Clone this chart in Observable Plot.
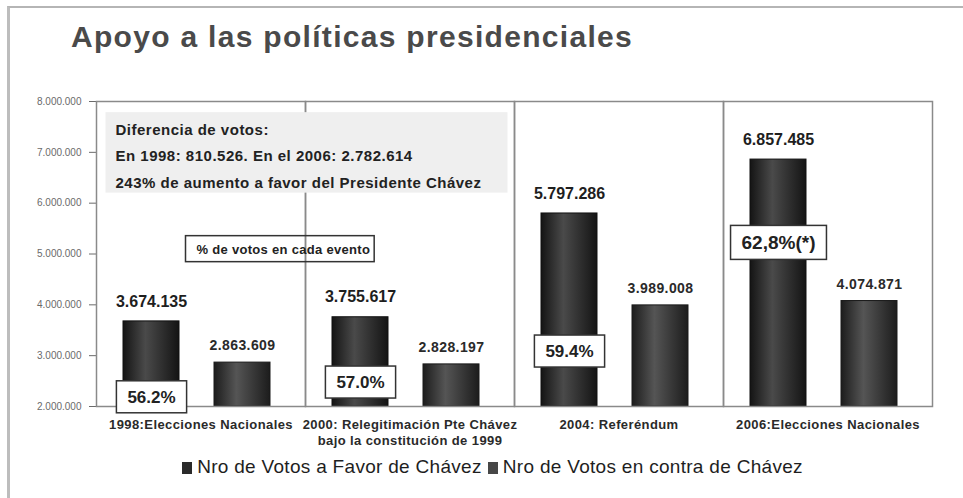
<!DOCTYPE html>
<html>
<head>
<meta charset="utf-8">
<script src="https://cdn.jsdelivr.net/npm/d3@7"></script>
<script src="https://cdn.jsdelivr.net/npm/@observablehq/plot@0.6"></script>
<style>
  html, body { margin: 0; padding: 0; background: #fff; }
  #wrap { position: relative; width: 963px; height: 498px; overflow: hidden; font-family: "Liberation Sans", Arial, sans-serif; }
  #border { position: absolute; left: 7px; top: 6px; right: -10px; bottom: -10px; border-left: 3px solid #bdbdbd; border-top: 2px solid #b5b5b5; }
  #title { position: absolute; left: 71px; top: 22px; font-size: 30px; letter-spacing: 1.3px; line-height: 1; font-weight: bold; color: #4a4a4a; white-space: nowrap; }
  #chart { position: absolute; left: 0; top: 70px; }
  #legend { position: absolute; left: 0; width: 985px; top: 456px; text-align: center; font-size: 19px; letter-spacing: 0.3px; color: #1e1e1e; white-space: nowrap; }
  #legend .sw { display: inline-block; width: 10px; height: 12px; margin-right: 5px; vertical-align: -1px; }
  #legend .item { margin: 0 3px; }
</style>
</head>
<body>
<div id="wrap">
  <div id="border"></div>
  <div id="title">Apoyo a las políticas presidenciales</div>
  <div id="chart"></div>
  <div id="legend"></div>
</div>
<script>
// ---------------- data ----------------
const events = [
  "1998:Elecciones Nacionales",
  "2000: Relegitimación Pte Chávez\nbajo la constitución de 1999",
  "2004: Referéndum",
  "2006:Elecciones Nacionales"
];
const seriesKeys = ["favor", "contra"];
const seriesNames = ["Nro de Votos a Favor de Chávez", "Nro de Votos en contra de Chávez"];
const votosFavor = [3674135, 3755617, 5797286, 6857485];
const votosContra = [2863609, 2828197, 3989008, 4074871];
const pctFavor = ["56.2%", "57.0%", "59.4%", "62,8%(*)"];
const yTicks = [2000000, 3000000, 4000000, 5000000, 6000000, 7000000, 8000000];
const noteLines = [
  "Diferencia de votos:",
  "En 1998: 810.526. En el 2006: 2.782.614",
  "243% de aumento a favor del Presidente Chávez"
];
const noteBox = "% de votos en cada evento";

// ---------------- layout helpers (not data) ----------------
const pctAnchorY = [2180000, 2470000, 3080000, 5210000]; // vertical placement of % boxes

const fmt = d3.formatLocale({decimal: ",", thousands: ".", grouping: [3], currency: ["", ""]}).format(",");

const rows = events.flatMap((e, i) => [
  {event: e, series: "favor", value: votosFavor[i]},
  {event: e, series: "contra", value: votosContra[i]}
]);
const favorRows = rows.filter(d => d.series === "favor");
const contraRows = rows.filter(d => d.series === "contra");
const pctRows = events.map((e, i) => ({event: e, series: "favor", label: pctFavor[i], y: pctAnchorY[i]}));
const base = yTicks[0];

const plot = Plot.plot({
  width: 963,
  height: 390,
  marginLeft: 95,
  marginRight: 31,
  marginTop: 31,
  marginBottom: 54,
  style: {fontFamily: "'Liberation Sans', Arial, sans-serif", color: "#6a6a6a", background: "transparent", overflow: "visible"},
  fx: {domain: events, padding: 0, axis: null},
  x: {domain: seriesKeys, paddingInner: 0.385, paddingOuter: 0.335, align: 0.43, axis: null},
  y: {domain: [yTicks[0], yTicks[yTicks.length - 1]], ticks: yTicks, tickFormat: fmt, tickSize: 7, tickPadding: 8, label: null, fontSize: 10},
  marks: [
    Plot.barY(favorRows, {fx: "event", x: "series", y1: () => base, y2: "value", fill: "url(#gFavor)", stroke: "#111", strokeWidth: 1, inset: 0}),
    Plot.barY(contraRows, {fx: "event", x: "series", y1: () => base, y2: "value", fill: "url(#gContra)", stroke: "#1a1a1a", strokeWidth: 1, inset: 0}),
    Plot.frame({stroke: "#8a8a8a", strokeWidth: 1.5}),
    Plot.text(favorRows, {fx: "event", x: "series", y: "value", text: d => fmt(d.value), dy: -20, fontSize: 16, fontWeight: "bold", fill: "#1e1e1e"}),
    Plot.text(contraRows, {fx: "event", x: "series", y: "value", text: d => fmt(d.value), dy: -17, fontSize: 14, fontWeight: "bold", fill: "#2a2a2a", ariaDescription: "contra"}),
    Plot.text(pctRows, {fx: "event", x: "series", y: "y", text: "label", fontSize: d => d.label.length > 6 ? 19 : 17, fontWeight: "bold", fill: "#222", ariaDescription: "pct"}),
    Plot.text([noteLines.join("\n")], {fx: () => events[0], frameAnchor: "top-left", textAnchor: "start", lineAnchor: "top", dx: 19, dy: 15, lineHeight: 1.75, fontSize: 15, fontWeight: "bold", fill: "#222", ariaDescription: "note"}),
    Plot.text([noteBox], {fx: () => events[0], frameAnchor: "top-left", textAnchor: "start", lineAnchor: "middle", dx: 100, dy: 148, fontSize: 13, fontWeight: "bold", fill: "#222", ariaDescription: "notebox"}),
    Plot.text(events, {fx: d => d, text: d => d, frameAnchor: "bottom", lineAnchor: "top", dy: 10, lineHeight: 1.3, fontSize: 13, fontWeight: "bold", fill: "#2a2a2a", ariaDescription: "xlab"})
  ]
});

document.getElementById("chart").appendChild(plot);
const svg = d3.select(plot);

// letter spacing tweaks
svg.selectAll('g[aria-description="note"]').style("letter-spacing", "0.5px");
svg.selectAll('g[aria-description="notebox"]').style("letter-spacing", "0.3px");
svg.selectAll('g[aria-description="xlab"]').style("letter-spacing", "0.4px");
svg.selectAll('g[aria-description="contra"]').style("letter-spacing", "0.4px");

// gradients for cylinder-like bars
const defs = svg.insert("defs", ":first-child");
function grad(id, edge, mid) {
  const g = defs.append("linearGradient").attr("id", id).attr("x1", 0).attr("x2", 1).attr("y1", 0).attr("y2", 0);
  g.append("stop").attr("offset", "0%").attr("stop-color", edge);
  g.append("stop").attr("offset", "40%").attr("stop-color", mid);
  g.append("stop").attr("offset", "100%").attr("stop-color", edge);
}
grad("gFavor", "#141414", "#4a4a4a");
grad("gContra", "#1c1c1c", "#555555");

// boxes behind annotation texts
function boxes(label, padL, padR, padT, padB, fill, stroke, sw) {
  svg.selectAll(`g[aria-description="${label}"] text`).each(function () {
    const b = this.getBBox();
    const r = document.createElementNS("http://www.w3.org/2000/svg", "rect");
    r.setAttribute("x", b.x - padL);
    r.setAttribute("y", b.y - padT);
    r.setAttribute("width", b.width + padL + padR);
    r.setAttribute("height", b.height + padT + padB);
    r.setAttribute("fill", fill);
    r.setAttribute("stroke", stroke);
    r.setAttribute("stroke-width", sw);
    const t = this.getAttribute("transform");
    if (t) r.setAttribute("transform", t);
    this.parentNode.insertBefore(r, this);
  });
}
boxes("note", 10, 26, 9, 2, "#efefef", "none", 0);
boxes("notebox", 11, 4, 6, 5, "none", "#333", 1.5);
boxes("pct", 11, 11, 7, 6, "#ffffff", "#333", 1.5);

// keep the annotation (first facet) above the other facets' frames
svg.selectAll('g[aria-description="note"]').each(function () {
  let facet = this.parentNode;
  while (facet && facet.parentNode && facet.parentNode !== plot && facet.getAttribute("aria-label") !== "facet") facet = facet.parentNode;
  if (facet && facet.parentNode) facet.parentNode.appendChild(facet);
});

// legend
const leg = document.getElementById("legend");
const swColors = ["#2a2a2a", "#474747"];
seriesNames.forEach((n, i) => {
  const s = document.createElement("span");
  s.className = "item";
  s.innerHTML = `<span class="sw" style="background:${swColors[i]}"></span>${n}`;
  leg.appendChild(s);
});
</script>
</body>
</html>
